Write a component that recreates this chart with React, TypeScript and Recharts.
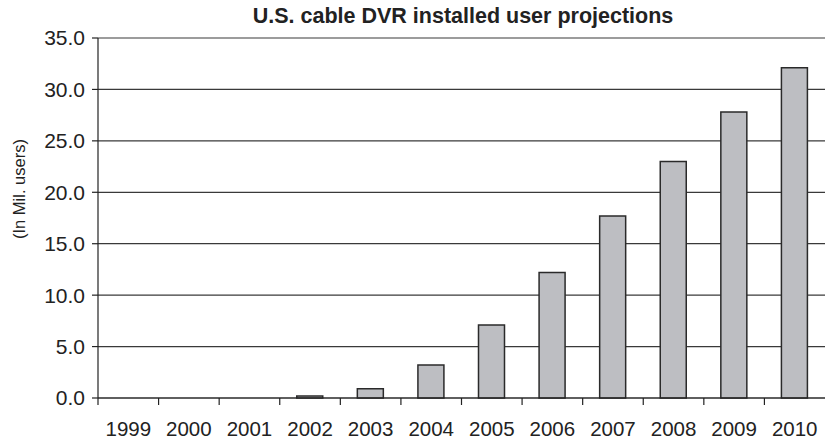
import { BarChart, Bar, XAxis, YAxis, CartesianGrid } from 'recharts';

// Projected installed base, millions of users
const years = ['1999', '2000', '2001', '2002', '2003', '2004', '2005', '2006', '2007', '2008', '2009', '2010'];
const users = [0, 0, 0, 0.2, 0.9, 3.2, 7.1, 12.2, 17.7, 23.0, 27.8, 32.1];
const yTicks = [0, 5, 10, 15, 20, 25, 30, 35];

const data = years.map((year, i) => ({ year, users: users[i] }));

const W = 825;
const H = 442;
const PLOT_LEFT = 98;
const PLOT_RIGHT = 0;
const BAND = (W - PLOT_LEFT - PLOT_RIGHT) / years.length;
const FONT = '"Liberation Sans", Arial, sans-serif';
const INK = '#222';

// year label centred in its band, tick mark on the band's left edge
const YearTick = (props: any) => {
  const { x, y, payload } = props;
  const left = x - BAND / 2;
  return (
    <g>
      <line x1={left} y1={y} x2={left} y2={y + 7} stroke={INK} strokeWidth={1.2} />
      <text x={x} y={y + 38} textAnchor="middle" fontFamily={FONT} fontSize={20.5} fill={INK}>
        {payload.value}
      </text>
    </g>
  );
};

export default function App() {
  return (
    <div style={{ position: 'absolute', left: 0, top: 0, width: W, height: H, background: '#fff' }}>
      <BarChart
        width={W}
        height={H}
        data={data}
        margin={{ top: 38, right: PLOT_RIGHT, bottom: 0, left: 0 }}
        barSize={26}
      >
        <text x={463} y={23} textAnchor="middle" fontFamily={FONT} fontSize={21.5} fontWeight="bold" fill={INK}>
          U.S. cable DVR installed user projections
        </text>
        <text
          x={25}
          y={189}
          transform="rotate(-90 25 189)"
          textAnchor="middle"
          fontFamily={FONT}
          fontSize={16.5}
          fill={INK}
        >
          (In Mil. users)
        </text>
        <CartesianGrid vertical={false} stroke="#3a3a3a" strokeWidth={1.2} />
        <XAxis
          dataKey="year"
          height={44}
          interval={0}
          tickLine={false}
          tickSize={0}
          tickMargin={0}
          axisLine={{ stroke: INK, strokeWidth: 1.2 }}
          tick={<YearTick />}
        />
        <YAxis
          width={PLOT_LEFT}
          domain={[0, 35]}
          ticks={yTicks}
          interval={0}
          tickFormatter={(v: number) => v.toFixed(1)}
          tickSize={6}
          tickMargin={7}
          tickLine={{ stroke: INK, strokeWidth: 1.2 }}
          axisLine={{ stroke: INK, strokeWidth: 1.2 }}
          tick={{ fontFamily: FONT, fontSize: 21, fill: INK }}
        />
        <Bar dataKey="users" fill="#bdbec2" stroke="#2a2a2a" strokeWidth={1.5} isAnimationActive={false} />
      </BarChart>
    </div>
  );
}
